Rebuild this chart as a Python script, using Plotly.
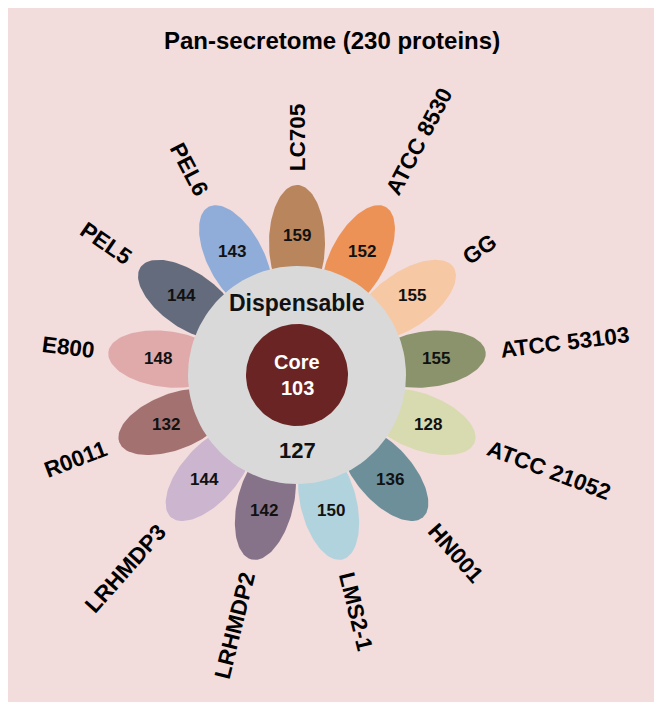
import numpy as np
import plotly.graph_objects as go

# ---- data ----
strains = ["LC705", "ATCC 8530", "GG", "ATCC 53103", "ATCC 21052", "HN001",
           "LMS2-1", "LRHMDP2", "LRHMDP3", "R0011", "E800", "PEL5", "PEL6"]
counts = [159, 152, 155, 155, 128, 136, 150, 142, 144, 132, 148, 144, 143]
petal_colors = ["#B27B4F", "#EB8A48", "#F7C59D", "#7F8B5F", "#D5DAAA", "#5E8692",
                "#AAD2DE", "#7B6780", "#C7B0CD", "#9B6565", "#DEA3A4", "#545E71", "#85A6D7"]
core_label = "Core"
core_count = 103
disp_label = "Dispensable"
disp_count = 127
title = "Pan-secretome (230 proteins)"

# ---- geometry / style (page pixel coordinates, y downward) ----
PAGE_W, PAGE_H = 662, 710
BODY = 8  # default page body margin
FIG_W, FIG_H = PAGE_W - 2 * BODY, PAGE_H - 2 * BODY
CX, CY = 297, 375
D_PETAL, A_PETAL, B_PETAL = 132, 58, 28
R_NUM = 140
R_LABEL0 = 204
R_GRAY, R_CORE = 109, 51
FONT = "Liberation Sans, Arial, sans-serif"
LABEL_SIZE = 22.5

AW = {"A": 722, "T": 611, "C": 722, " ": 278, "G": 778, "H": 722, "N": 722, "L": 611,
      "M": 833, "S": 667, "D": 722, "P": 667, "R": 722, "E": 667, "-": 333, "O": 778}


def text_width(s, size):
    return sum(AW.get(ch, 556) for ch in s) * size / 1000.0


fig = go.Figure()
n = len(strains)
step = 360.0 / n
t = np.linspace(0, 2 * np.pi, 121)
annotations = []
for i, (name, cnt, col) in enumerate(zip(strains, counts, petal_colors)):
    th_deg = 90.0 - i * step
    th = np.deg2rad(th_deg)
    px = CX + D_PETAL * np.cos(th)
    py = CY - D_PETAL * np.sin(th)
    lx = A_PETAL * np.cos(t)
    ly = B_PETAL * np.sin(t)
    xs = px + lx * np.cos(th) - ly * np.sin(th)
    ys = py - (lx * np.sin(th) + ly * np.cos(th))
    fig.add_trace(go.Scatter(x=xs, y=ys, mode="lines", fill="toself", fillcolor=col,
                             line=dict(width=0, color=col), opacity=0.9,
                             hoverinfo="skip", showlegend=False))
    annotations.append(dict(x=CX + R_NUM * np.cos(th), y=CY - R_NUM * np.sin(th),
                            text=f"<b>{cnt}</b>", showarrow=False,
                            font=dict(family=FONT, size=17, color="#111111"),
                            xanchor="center", yanchor="middle"))
    w = text_width(name, LABEL_SIZE)
    rc = R_LABEL0 + w / 2
    a = th_deg % 360
    if abs(a - 90) < 1e-6:
        ang = -90
    elif 90 < a < 270:
        ang = -(a + 180)
    else:
        ang = -th_deg
    while ang <= -180:
        ang += 360
    while ang > 180:
        ang -= 360
    annotations.append(dict(x=CX + rc * np.cos(th), y=CY - rc * np.sin(th),
                            text=f"<b>{name}</b>", showarrow=False, textangle=ang,
                            font=dict(family=FONT, size=LABEL_SIZE, color="#000000"),
                            xanchor="center", yanchor="middle"))

# gray dispensable circle
fig.add_trace(go.Scatter(x=CX + R_GRAY * np.cos(t), y=CY + R_GRAY * np.sin(t),
                         mode="lines", fill="toself", fillcolor="#D9D9D9",
                         line=dict(width=0, color="#D9D9D9"), hoverinfo="skip",
                         showlegend=False))
# core circle
fig.add_trace(go.Scatter(x=CX + R_CORE * np.cos(t), y=CY + R_CORE * np.sin(t),
                         mode="lines", fill="toself", fillcolor="#6A2424",
                         line=dict(width=0, color="#6A2424"), hoverinfo="skip",
                         showlegend=False))

annotations += [
    dict(x=CX, y=303, text=f"<b>{disp_label}</b>", showarrow=False,
         font=dict(family=FONT, size=23, color="#111111")),
    dict(x=CX, y=450, text=f"<b>{disp_count}</b>", showarrow=False,
         font=dict(family=FONT, size=22, color="#111111")),
    dict(x=CX, y=362, text=f"<b>{core_label}</b>", showarrow=False,
         font=dict(family=FONT, size=20, color="#FFFFFF")),
    dict(x=CX, y=388, text=f"<b>{core_count}</b>", showarrow=False,
         font=dict(family=FONT, size=20, color="#FFFFFF")),
    dict(x=332, y=40, text=f"<b>{title}</b>", showarrow=False,
         font=dict(family=FONT, size=24, color="#000000")),
]

fig.update_layout(
    width=FIG_W, height=FIG_H, margin=dict(l=0, r=0, t=0, b=0),
    paper_bgcolor="#FFFFFF", plot_bgcolor="#FFFFFF",
    xaxis=dict(range=[BODY, BODY + FIG_W], visible=False, fixedrange=True),
    yaxis=dict(range=[BODY + FIG_H, BODY], visible=False, fixedrange=True),
    shapes=[dict(type="rect", xref="x", yref="y", x0=5, x1=655, y0=6, y1=702,
                 fillcolor="#F2DCDC", line=dict(width=0), layer="below")],
    annotations=annotations,
    showlegend=False,
)

fig.write_html("out.html")
